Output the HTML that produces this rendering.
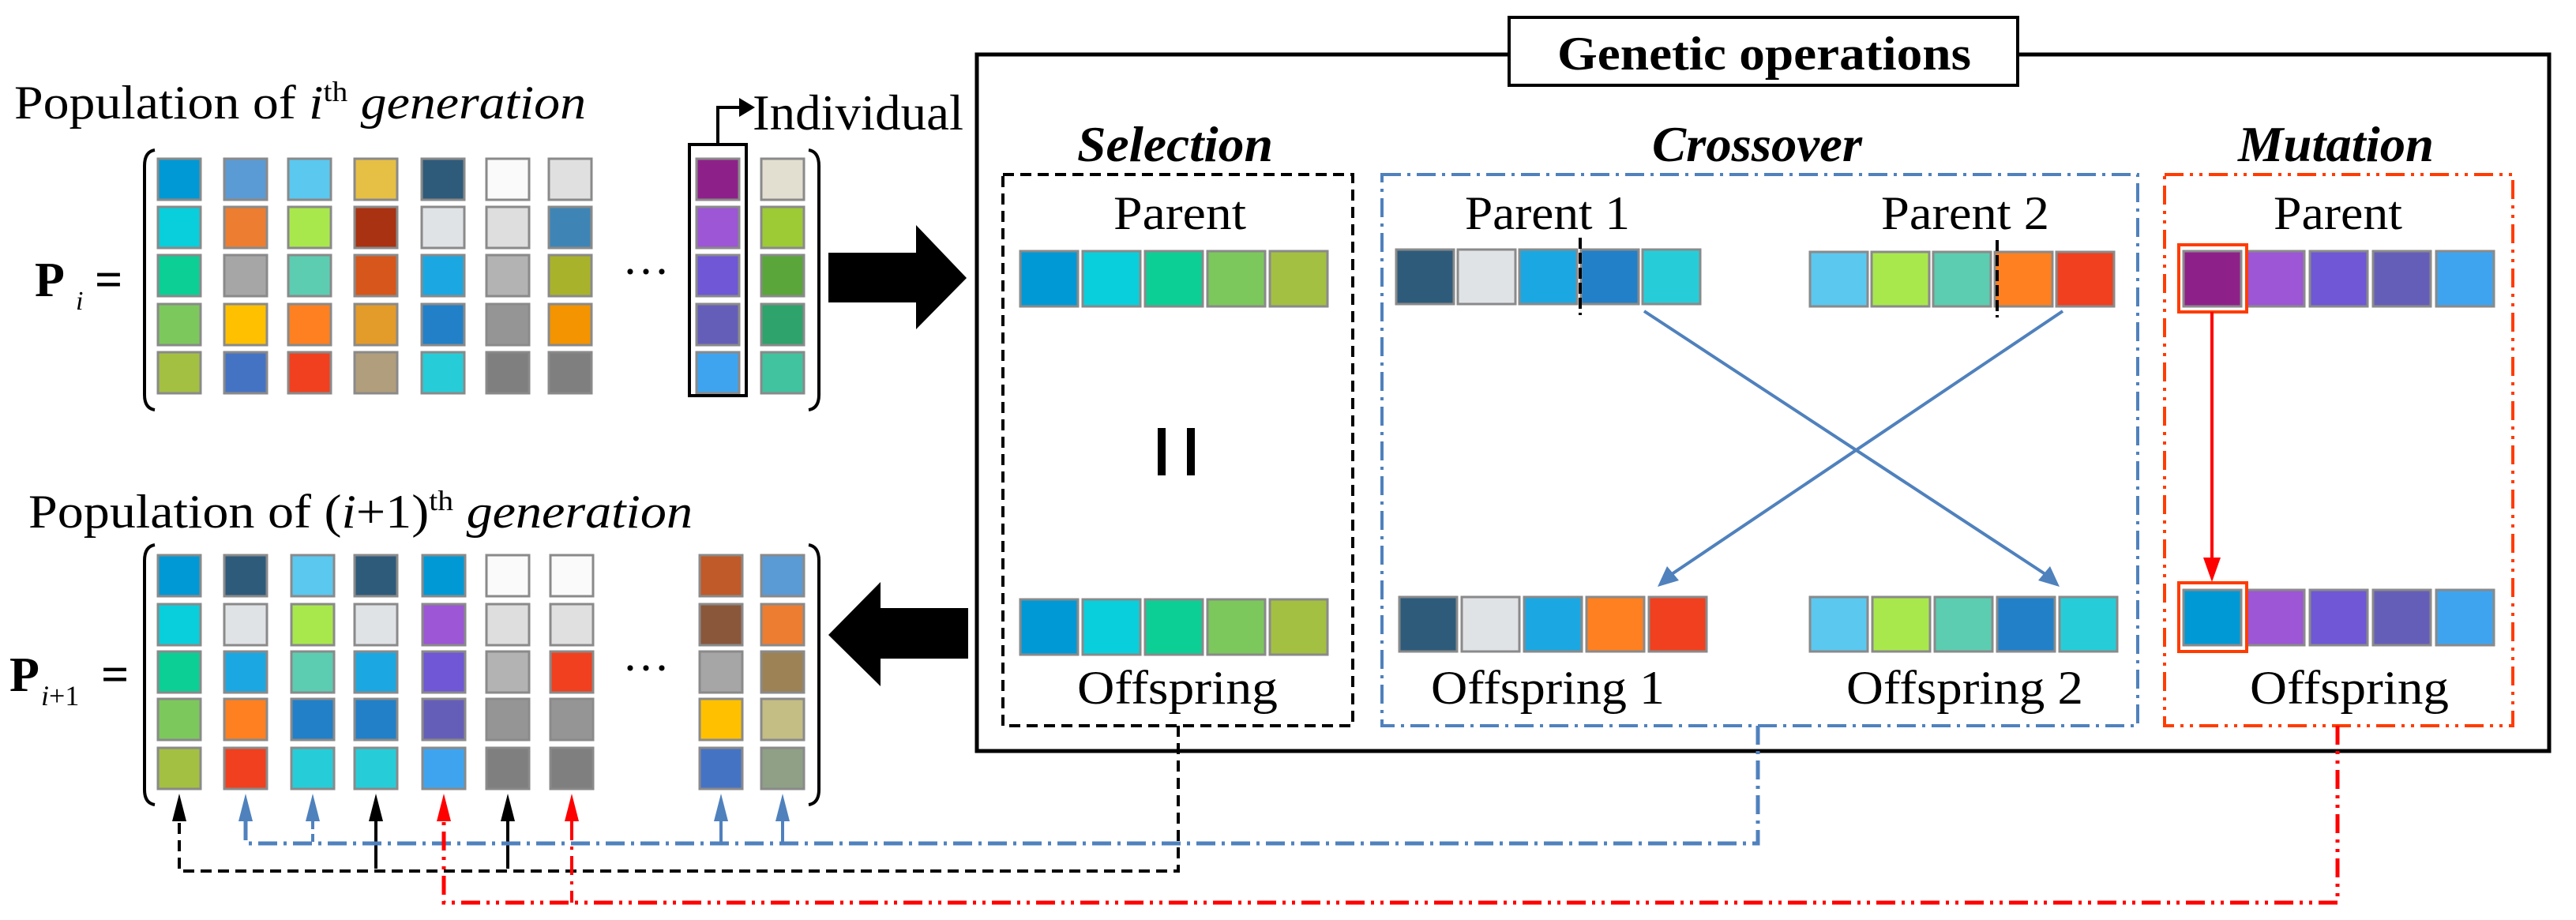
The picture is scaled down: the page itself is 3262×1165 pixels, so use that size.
<!DOCTYPE html>
<html><head><meta charset="utf-8"><style>
html,body{margin:0;padding:0;background:#fff;}
svg{display:block;}
text{font-family:"Liberation Serif","Times New Roman",serif;fill:#000;}
.c{stroke:#8a8a8a;stroke-width:3;}
</style></head><body>
<svg width="3262" height="1165" viewBox="0 0 3262 1165" xmlns="http://www.w3.org/2000/svg">

<!-- Titles left -->
<text x="18" y="150" font-size="60" textLength="724" lengthAdjust="spacingAndGlyphs">Population of <tspan font-style="italic">i</tspan><tspan font-size="36" dy="-22">th</tspan><tspan dy="22" font-style="italic"> generation</tspan></text>
<text x="953" y="164" font-size="64" textLength="267" lengthAdjust="spacingAndGlyphs">Individual</text>
<path d="M909,183 V136 H940" stroke="#000" stroke-width="4" fill="none"/>
<path d="M936,124 L956,136 L936,148z" fill="#000"/>

<text x="44" y="375" font-size="62" font-weight="bold">P</text>
<text x="96" y="392" font-size="34" font-style="italic">i</text>
<text x="120" y="375" font-size="62" font-weight="bold">=</text>

<!-- brackets Pi -->
<path d="M196,190 Q183,192 183,210 V500 Q183,517 196,519" stroke="#000" stroke-width="4" fill="none"/>
<path d="M1024,190 Q1037,192 1037,210 V500 Q1037,517 1024,519" stroke="#000" stroke-width="4" fill="none"/>
<text x="788" y="364" font-size="60">···</text>

<!-- Pi cells -->
<g class="c">
<rect x="200" y="201" width="54" height="52" fill="#0099d6"/><rect x="284" y="201" width="54" height="52" fill="#5b9bd5"/><rect x="365" y="201" width="54" height="52" fill="#5bc8f0"/><rect x="449" y="201" width="54" height="52" fill="#e6bf45"/><rect x="534" y="201" width="54" height="52" fill="#2f5b7a"/><rect x="616" y="201" width="54" height="52" fill="#fafafa"/><rect x="695" y="201" width="54" height="52" fill="#e0e0e0"/><rect x="882" y="201" width="54" height="52" fill="#8e2189"/><rect x="964" y="201" width="54" height="52" fill="#e3dfd0"/>
<rect x="200" y="262" width="54" height="52" fill="#09cfdc"/><rect x="284" y="262" width="54" height="52" fill="#ed7d31"/><rect x="365" y="262" width="54" height="52" fill="#a9e84c"/><rect x="449" y="262" width="54" height="52" fill="#a83211"/><rect x="534" y="262" width="54" height="52" fill="#e0e3e6"/><rect x="616" y="262" width="54" height="52" fill="#dedede"/><rect x="695" y="262" width="54" height="52" fill="#3e85b5"/><rect x="882" y="262" width="54" height="52" fill="#9c56d6"/><rect x="964" y="262" width="54" height="52" fill="#9dcb35"/>
<rect x="200" y="323" width="54" height="52" fill="#0ccf96"/><rect x="284" y="323" width="54" height="52" fill="#a6a6a6"/><rect x="365" y="323" width="54" height="52" fill="#5ccdb0"/><rect x="449" y="323" width="54" height="52" fill="#d6561b"/><rect x="534" y="323" width="54" height="52" fill="#1ba8e2"/><rect x="616" y="323" width="54" height="52" fill="#b3b3b3"/><rect x="695" y="323" width="54" height="52" fill="#a8b32b"/><rect x="882" y="323" width="54" height="52" fill="#6f57d6"/><rect x="964" y="323" width="54" height="52" fill="#5aa63a"/>
<rect x="200" y="385" width="54" height="52" fill="#7cc85c"/><rect x="284" y="385" width="54" height="52" fill="#ffc000"/><rect x="365" y="385" width="54" height="52" fill="#fe8020"/><rect x="449" y="385" width="54" height="52" fill="#e39b2a"/><rect x="534" y="385" width="54" height="52" fill="#2280c8"/><rect x="616" y="385" width="54" height="52" fill="#959595"/><rect x="695" y="385" width="54" height="52" fill="#f39400"/><rect x="882" y="385" width="54" height="52" fill="#655eb8"/><rect x="964" y="385" width="54" height="52" fill="#2ea36b"/>
<rect x="200" y="446" width="54" height="52" fill="#a3c042"/><rect x="284" y="446" width="54" height="52" fill="#4573c4"/><rect x="365" y="446" width="54" height="52" fill="#f0401f"/><rect x="449" y="446" width="54" height="52" fill="#b19e7c"/><rect x="534" y="446" width="54" height="52" fill="#26cdd8"/><rect x="616" y="446" width="54" height="52" fill="#7f7f7f"/><rect x="695" y="446" width="54" height="52" fill="#7f7f7f"/><rect x="882" y="446" width="54" height="52" fill="#3fa4ef"/><rect x="964" y="446" width="54" height="52" fill="#41c3a0"/>
</g>
<rect x="873" y="183" width="72" height="318" fill="none" stroke="#000" stroke-width="4"/>

<!-- big right arrow -->
<path d="M1049,320 H1160 V285 L1224,352 L1160,417 V383 H1049z" fill="#000"/>

<!-- Pi+1 -->
<text x="36" y="668" font-size="60" textLength="841" lengthAdjust="spacingAndGlyphs">Population of (<tspan font-style="italic">i</tspan>+1)<tspan font-size="36" dy="-22">th</tspan><tspan dy="22" font-style="italic"> generation</tspan></text>
<text x="12" y="875" font-size="62" font-weight="bold">P</text>
<text x="52" y="893" font-size="36"><tspan font-style="italic">i</tspan>+1</text>
<text x="128" y="875" font-size="62" font-weight="bold">=</text>
<path d="M196,690 Q183,692 183,710 V1000 Q183,1017 196,1019" stroke="#000" stroke-width="4" fill="none"/>
<path d="M1024,690 Q1037,692 1037,710 V1000 Q1037,1017 1024,1019" stroke="#000" stroke-width="4" fill="none"/>
<text x="788" y="866" font-size="60">···</text>
<g class="c">
<rect x="200" y="703" width="54" height="52" fill="#0099d6"/><rect x="284" y="703" width="54" height="52" fill="#2f5b7a"/><rect x="369" y="703" width="54" height="52" fill="#5bc8f0"/><rect x="449" y="703" width="54" height="52" fill="#2f5b7a"/><rect x="535" y="703" width="54" height="52" fill="#0099d6"/><rect x="616" y="703" width="54" height="52" fill="#fafafa"/><rect x="697" y="703" width="54" height="52" fill="#fafafa"/><rect x="886" y="703" width="54" height="52" fill="#c05a28"/><rect x="964" y="703" width="54" height="52" fill="#5b9bd5"/>
<rect x="200" y="765" width="54" height="52" fill="#09cfdc"/><rect x="284" y="765" width="54" height="52" fill="#e0e3e6"/><rect x="369" y="765" width="54" height="52" fill="#a9e84c"/><rect x="449" y="765" width="54" height="52" fill="#e0e3e6"/><rect x="535" y="765" width="54" height="52" fill="#9c56d6"/><rect x="616" y="765" width="54" height="52" fill="#dedede"/><rect x="697" y="765" width="54" height="52" fill="#e0e0e0"/><rect x="886" y="765" width="54" height="52" fill="#8a573a"/><rect x="964" y="765" width="54" height="52" fill="#ed7d31"/>
<rect x="200" y="825" width="54" height="52" fill="#0ccf96"/><rect x="284" y="825" width="54" height="52" fill="#1ba8e2"/><rect x="369" y="825" width="54" height="52" fill="#5ccdb0"/><rect x="449" y="825" width="54" height="52" fill="#1ba8e2"/><rect x="535" y="825" width="54" height="52" fill="#6f57d6"/><rect x="616" y="825" width="54" height="52" fill="#b3b3b3"/><rect x="697" y="825" width="54" height="52" fill="#f0401f"/><rect x="886" y="825" width="54" height="52" fill="#a6a6a6"/><rect x="964" y="825" width="54" height="52" fill="#9c8255"/>
<rect x="200" y="885" width="54" height="52" fill="#7cc85c"/><rect x="284" y="885" width="54" height="52" fill="#fe8020"/><rect x="369" y="885" width="54" height="52" fill="#2280c8"/><rect x="449" y="885" width="54" height="52" fill="#2280c8"/><rect x="535" y="885" width="54" height="52" fill="#655eb8"/><rect x="616" y="885" width="54" height="52" fill="#959595"/><rect x="697" y="885" width="54" height="52" fill="#959595"/><rect x="886" y="885" width="54" height="52" fill="#ffc000"/><rect x="964" y="885" width="54" height="52" fill="#c4bd84"/>
<rect x="200" y="947" width="54" height="52" fill="#a3c042"/><rect x="284" y="947" width="54" height="52" fill="#f0401f"/><rect x="369" y="947" width="54" height="52" fill="#26cdd8"/><rect x="449" y="947" width="54" height="52" fill="#26cdd8"/><rect x="535" y="947" width="54" height="52" fill="#3fa4ef"/><rect x="616" y="947" width="54" height="52" fill="#7f7f7f"/><rect x="697" y="947" width="54" height="52" fill="#7f7f7f"/><rect x="886" y="947" width="54" height="52" fill="#4573c4"/><rect x="964" y="947" width="54" height="52" fill="#8fa087"/>
</g>

<!-- big left arrow -->
<path d="M1226,770 H1115 V737 L1049,804 L1115,869 V834 H1226z" fill="#000"/>

<!-- main box -->
<rect x="1237" y="69" width="1991" height="882" fill="none" stroke="#000" stroke-width="5"/>
<rect x="1911" y="22" width="644" height="86" fill="#fff" stroke="#000" stroke-width="4"/>
<text x="1972" y="88" font-size="60" font-weight="bold" textLength="524" lengthAdjust="spacingAndGlyphs">Genetic operations</text>

<text x="1364" y="204" font-size="64" font-weight="bold" font-style="italic" textLength="248" lengthAdjust="spacingAndGlyphs">Selection</text>
<text x="2092" y="204" font-size="64" font-weight="bold" font-style="italic" textLength="266" lengthAdjust="spacingAndGlyphs">Crossover</text>
<text x="2834" y="204" font-size="64" font-weight="bold" font-style="italic" textLength="248" lengthAdjust="spacingAndGlyphs">Mutation</text>

<rect x="1270" y="221" width="443" height="698" fill="none" stroke="#000" stroke-width="4" stroke-dasharray="14 8"/>
<rect x="1750" y="221" width="957" height="698" fill="none" stroke="#4f81bd" stroke-width="4" stroke-dasharray="24 8 4 8"/>
<rect x="2741" y="221" width="441" height="698" fill="none" stroke="#ff3c00" stroke-width="4" stroke-dasharray="24 8 4 8 4 8"/>

<!-- Selection -->
<text x="1410" y="290" font-size="60" textLength="168" lengthAdjust="spacingAndGlyphs">Parent</text>
<g class="c">
<rect x="1292" y="318" width="73" height="70" fill="#0099d6"/><rect x="1371" y="318" width="73" height="70" fill="#09cfdc"/><rect x="1450" y="318" width="73" height="70" fill="#0ccf96"/><rect x="1529" y="318" width="73" height="70" fill="#7cc85c"/><rect x="1608" y="318" width="73" height="70" fill="#a3c042"/>
<rect x="1292" y="759" width="73" height="70" fill="#0099d6"/><rect x="1371" y="759" width="73" height="70" fill="#09cfdc"/><rect x="1450" y="759" width="73" height="70" fill="#0ccf96"/><rect x="1529" y="759" width="73" height="70" fill="#7cc85c"/><rect x="1608" y="759" width="73" height="70" fill="#a3c042"/>
</g>
<rect x="1466" y="542" width="10" height="60" fill="#000"/><rect x="1503" y="542" width="10" height="60" fill="#000"/>
<text x="1364" y="891" font-size="60" textLength="254" lengthAdjust="spacingAndGlyphs">Offspring</text>

<!-- Crossover -->
<text x="1855" y="290" font-size="60" textLength="209" lengthAdjust="spacingAndGlyphs">Parent 1</text>
<text x="2382" y="290" font-size="60" textLength="213" lengthAdjust="spacingAndGlyphs">Parent 2</text>
<g class="c">
<rect x="1768" y="316" width="73" height="69" fill="#2f5b7a"/><rect x="1846" y="316" width="73" height="69" fill="#e0e3e6"/><rect x="1924" y="316" width="73" height="69" fill="#1ba8e2"/><rect x="2002" y="316" width="73" height="69" fill="#2280c8"/><rect x="2080" y="316" width="73" height="69" fill="#26cdd8"/>
<rect x="2292" y="319" width="73" height="69" fill="#5bc8f0"/><rect x="2370" y="319" width="73" height="69" fill="#a9e84c"/><rect x="2448" y="319" width="73" height="69" fill="#5ccdb0"/><rect x="2526" y="319" width="73" height="69" fill="#fe8020"/><rect x="2604" y="319" width="73" height="69" fill="#f0401f"/>
<rect x="1772" y="756" width="73" height="69" fill="#2f5b7a"/><rect x="1851" y="756" width="73" height="69" fill="#e0e3e6"/><rect x="1930" y="756" width="73" height="69" fill="#1ba8e2"/><rect x="2009" y="756" width="73" height="69" fill="#fe8020"/><rect x="2088" y="756" width="73" height="69" fill="#f0401f"/>
<rect x="2292" y="756" width="73" height="69" fill="#5bc8f0"/><rect x="2371" y="756" width="73" height="69" fill="#a9e84c"/><rect x="2450" y="756" width="73" height="69" fill="#5ccdb0"/><rect x="2529" y="756" width="73" height="69" fill="#2280c8"/><rect x="2608" y="756" width="73" height="69" fill="#26cdd8"/>
</g>
<line x1="2001" y1="301" x2="2001" y2="399" stroke="#000" stroke-width="4" stroke-dasharray="14 5"/>
<line x1="2529" y1="304" x2="2529" y2="402" stroke="#000" stroke-width="4" stroke-dasharray="14 5"/>
<line x1="2082" y1="394" x2="2596" y2="731" stroke="#4f81bd" stroke-width="4"/>
<path d="M2608,743 L2581,735 L2596,717z" fill="#4f81bd"/>
<line x1="2612" y1="394" x2="2111" y2="731" stroke="#4f81bd" stroke-width="4"/>
<path d="M2099,743 L2111,717 L2126,735z" fill="#4f81bd"/>
<text x="1812" y="891" font-size="60" textLength="296" lengthAdjust="spacingAndGlyphs">Offspring 1</text>
<text x="2338" y="891" font-size="60" textLength="300" lengthAdjust="spacingAndGlyphs">Offspring 2</text>

<!-- Mutation -->
<text x="2879" y="290" font-size="60" textLength="163" lengthAdjust="spacingAndGlyphs">Parent</text>
<g class="c">
<rect x="2765" y="318" width="73" height="70" fill="#8e2189"/><rect x="2845" y="318" width="73" height="70" fill="#9c56d6"/><rect x="2925" y="318" width="73" height="70" fill="#6f57d6"/><rect x="3005" y="318" width="73" height="70" fill="#655eb8"/><rect x="3085" y="318" width="73" height="70" fill="#3fa4ef"/>
<rect x="2765" y="747" width="73" height="70" fill="#0099d6"/><rect x="2845" y="747" width="73" height="70" fill="#9c56d6"/><rect x="2925" y="747" width="73" height="70" fill="#6f57d6"/><rect x="3005" y="747" width="73" height="70" fill="#655eb8"/><rect x="3085" y="747" width="73" height="70" fill="#3fa4ef"/>
</g>
<rect x="2759" y="310" width="86" height="85" fill="none" stroke="#ff3c00" stroke-width="4"/>
<rect x="2759" y="738" width="86" height="87" fill="none" stroke="#ff3c00" stroke-width="4"/>
<line x1="2801" y1="395" x2="2801" y2="710" stroke="#ff0000" stroke-width="4"/>
<path d="M2790,706 L2812,706 L2801,737z" fill="#ff0000"/>
<text x="2849" y="891" font-size="60" textLength="252" lengthAdjust="spacingAndGlyphs">Offspring</text>

<!-- connectors -->
<path d="M1492,919 V1103 H227 V1040" fill="none" stroke="#000" stroke-width="4" stroke-dasharray="14 8"/>
<line x1="476" y1="1040" x2="476" y2="1100" stroke="#000" stroke-width="4"/>
<line x1="643" y1="1040" x2="643" y2="1100" stroke="#000" stroke-width="4"/>
<path d="M2226,919 V1068 H311 V1040" fill="none" stroke="#4f81bd" stroke-width="5" stroke-dasharray="24 8 4 8"/>
<line x1="396" y1="1040" x2="396" y2="1068" stroke="#4f81bd" stroke-width="4" stroke-dasharray="10 6"/>
<line x1="913" y1="1040" x2="913" y2="1068" stroke="#4f81bd" stroke-width="4"/>
<line x1="991" y1="1040" x2="991" y2="1068" stroke="#4f81bd" stroke-width="4"/>
<path d="M2960,919 V1143 H562 V1040" fill="none" stroke="#ff0000" stroke-width="5" stroke-dasharray="24 8 4 8 4 8"/>
<line x1="724" y1="1040" x2="724" y2="1143" stroke="#ff0000" stroke-width="4" stroke-dasharray="24 8 4 8"/>

<!-- arrowheads -->
<g>
<path d="M218,1040 L236,1040 L227,1005z" fill="#000"/>
<path d="M302,1040 L320,1040 L311,1005z" fill="#4f81bd"/>
<path d="M387,1040 L405,1040 L396,1005z" fill="#4f81bd"/>
<path d="M467,1040 L485,1040 L476,1005z" fill="#000"/>
<path d="M553,1040 L571,1040 L562,1005z" fill="#ff0000"/>
<path d="M634,1040 L652,1040 L643,1005z" fill="#000"/>
<path d="M715,1040 L733,1040 L724,1005z" fill="#ff0000"/>
<path d="M904,1040 L922,1040 L913,1005z" fill="#4f81bd"/>
<path d="M982,1040 L1000,1040 L991,1005z" fill="#4f81bd"/>
</g>
</svg>
</body></html>
